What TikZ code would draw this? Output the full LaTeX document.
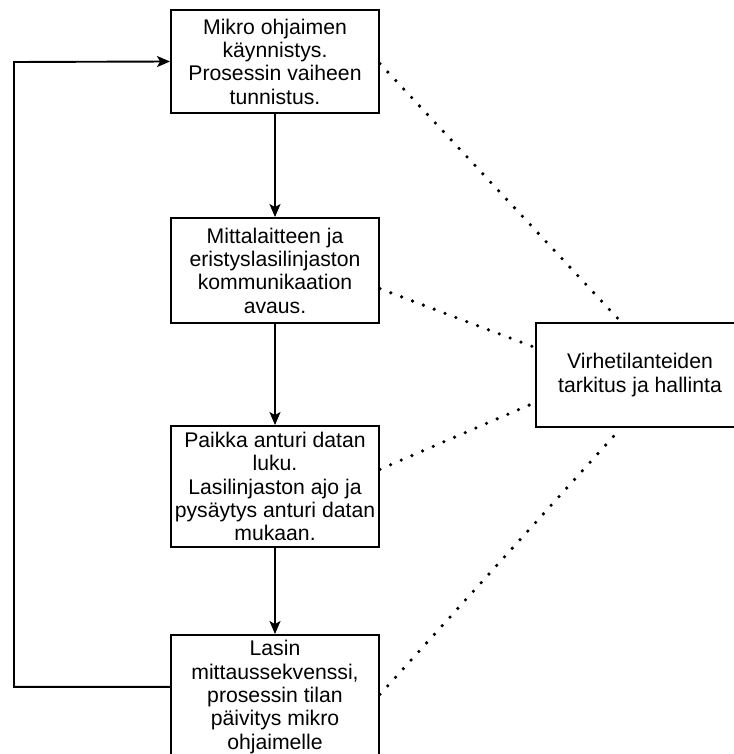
\documentclass[tikz,border=0pt]{standalone}
\usepackage{fontspec}
\setmainfont{Liberation Sans}
\usetikzlibrary{arrows.meta,calc}
\begin{document}
\begin{tikzpicture}[x=1pt,y=-1pt,
  box/.style={draw,line width=1.9pt,rectangle,inner sep=0pt,minimum width=208pt,align=center,
    font=\fontsize{21.2}{23.3}\selectfont},
  flow/.style={line width=1.9pt,-{Stealth[length=13pt,width=11pt,inset=3pt]}},
  dots/.style={line width=3.6pt,line cap=round,dash pattern=on 0pt off 11.6pt}]
\useasboundingbox (0,0) rectangle (733,754);
\node[box,minimum height=103pt] (b1) at (275,61.5) {Mikro ohjaimen\\käynnistys.\\Prosessin vaiheen\\tunnistus.};
\node[box,minimum height=105pt] (b2) at (275,270.5) {Mittalaitteen ja\\eristyslasilinjaston\\kommunikaation\\avaus.};
\node[box,minimum height=121pt] (b3) at (275,486.5) {Paikka anturi datan\\luku.\\Lasilinjaston ajo ja\\pysäytys anturi datan\\mukaan.};
\node[box,minimum height=124pt] (b4) at (275,697) {Lasin\\mittaussekvenssi,\\prosessin tilan\\päivitys mikro\\ohjaimelle};
\node[box,minimum height=104pt] (err) at (640,375) {Virhetilanteiden\\tarkitus ja hallinta};
\draw[flow] (b1) -- (b2);
\draw[flow] (b2) -- (b3);
\draw[flow] (b3) -- (b4);
\coordinate (lp) at ($(b4.north west)!0.42!(b4.south west)$);
\draw[flow] (lp) -| (14,62) -- (b1.west);
\draw[dots] ($(b1.north east)!0.52!(b1.south east)$) -- ($(err.north west)!0.41!(err.north east)$);
\draw[dots] ($(b2.north east)!0.67!(b2.south east)$) -- ($(err.north west)!0.24!(err.south west)$);
\draw[dots] ($(b3.north east)!0.36!(b3.south east)$) -- ($(err.north west)!0.76!(err.south west)$);
\draw[dots] ($(b4.north east)!0.48!(b4.south east)$) -- ($(err.south west)!0.41!(err.south east)$);
\end{tikzpicture}
\end{document}
